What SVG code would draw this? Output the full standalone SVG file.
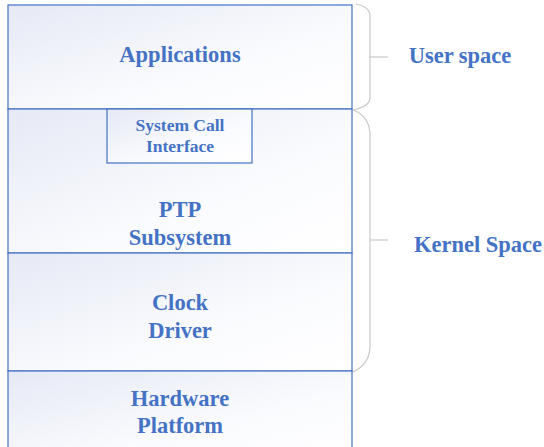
<svg xmlns="http://www.w3.org/2000/svg" width="544" height="447" viewBox="0 0 544 447">
<defs>
<linearGradient id="g" x1="0" y1="0" x2="1" y2="1">
<stop offset="0" stop-color="#E6E9F5"/>
<stop offset="0.6" stop-color="#FAFBFE"/>
<stop offset="1" stop-color="#FFFFFF"/>
</linearGradient>
<style>
.box{fill:url(#g);stroke:#4472C4;stroke-width:1.2}
.t{font-family:"Liberation Serif","Times New Roman",serif;font-weight:bold;fill:#4472C4;text-anchor:middle}
.big{font-size:22.5px}
.small{font-size:17.5px}
.brace{fill:none;stroke:#C8C8C8;stroke-width:1.2}
</style>
</defs>
<rect width="544" height="447" fill="#FFFFFF"/>
<g id="applications">
<rect class="box" x="8" y="5" width="344" height="104"/>
<text class="t big" x="180" y="62">Applications</text>
</g>
<g id="ptp">
<rect class="box" x="8" y="109" width="344" height="144"/>
<text class="t big" x="180" y="217">PTP</text>
<text class="t big" x="180" y="245">Subsystem</text>
</g>
<g id="syscall">
<rect class="box" x="107" y="109" width="145" height="54"/>
<text class="t small" x="180" y="131">System Call</text>
<text class="t small" x="180" y="152">Interface</text>
</g>
<g id="clock">
<rect class="box" x="8" y="253" width="344" height="118"/>
<text class="t big" x="180" y="310">Clock</text>
<text class="t big" x="180" y="338">Driver</text>
</g>
<g id="hardware">
<rect class="box" x="8" y="371" width="344" height="90"/>
<text class="t big" x="180" y="406">Hardware</text>
<text class="t big" x="180" y="433">Platform</text>
</g>
<g id="connectors">
<path class="brace" d="M356,4 Q370,7 370,16 L370,98 Q370,106 353,110"/>
<path class="brace" d="M370,57 L388,57"/>
<path class="brace" d="M353,110 Q370,116 370,136 L370,346 Q370,364 353,372"/>
<path class="brace" d="M370,240 L388,240"/>
</g>
<g id="labels">
<text class="t big" x="460" y="63">User space</text>
<text class="t big" x="478" y="252">Kernel Space</text>
</g>
</svg>
